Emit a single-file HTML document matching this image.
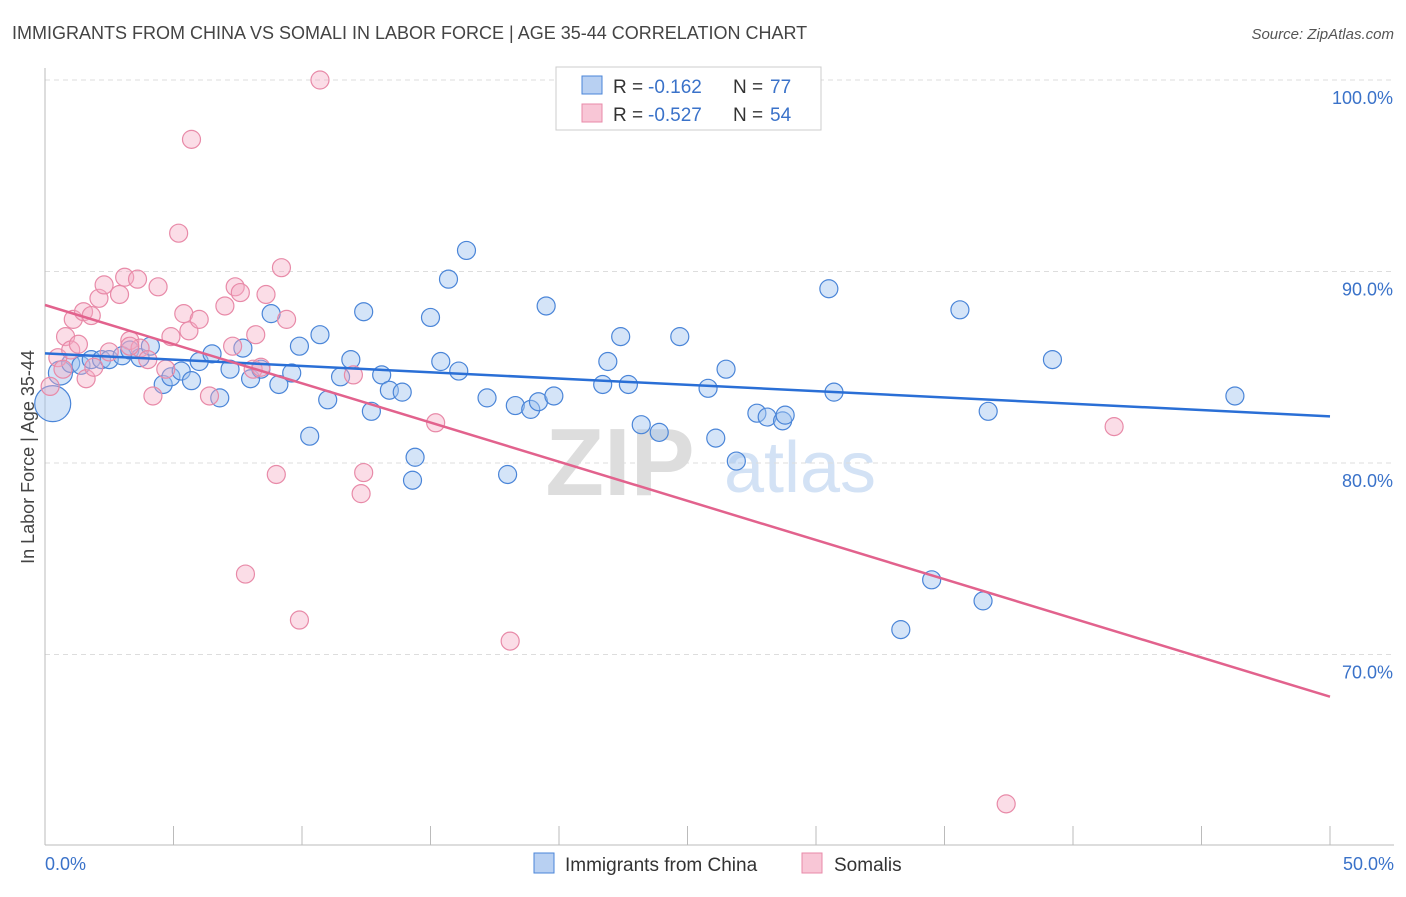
<!DOCTYPE html>
<html><head><meta charset="utf-8"><style>
body{margin:0;background:#fff;font-family:"Liberation Sans",sans-serif}
svg text{font-family:"Liberation Sans",sans-serif}
</style></head><body>
<svg id="c" width="1406" height="892"></svg>
<script>
const blueX=[0.3,0.6,1,1.4,1.8,2.2,2.5,3,3.3,3.7,4.1,4.6,4.9,5.3,5.7,6.0,6.5,6.8,7.2,7.7,8.0,8.4,8.8,9.1,9.6,9.9,10.3,10.7,11.0,11.5,11.9,12.4,12.7,13.1,13.4,13.9,14.4,14.3,15.0,15.4,15.7,16.1,16.4,17.2,18.0,18.3,18.9,19.2,19.8,19.5,20.4,21.0,21.7,21.9,22.4,22.7,23.2,23.9,24.7,25.8,26.1,26.5,26.9,27.7,28.1,28.7,28.8,29.7,30.5,30.7,33.3,34.5,35.6,36.5,36.7,39.2,46.3];
const blueY=[83.1,84.7,85.2,85.1,85.4,85.4,85.4,85.6,85.9,85.5,86.1,84.1,84.5,84.8,84.3,85.3,85.7,83.4,84.9,86.0,84.4,84.9,87.8,84.1,84.7,86.1,81.4,86.7,83.3,84.5,85.4,87.9,82.7,84.6,83.8,83.7,80.3,79.1,87.6,85.3,89.6,84.8,91.1,83.4,79.4,83.0,82.8,83.2,83.5,88.2,100,99.3,84.1,85.3,86.6,84.1,82.0,81.6,86.6,83.9,81.3,84.9,80.1,82.6,82.4,82.2,82.5,100,89.1,83.7,71.3,73.9,88.0,72.8,82.7,85.4,83.5];
const pinkX=[0.2,0.5,0.8,1.0,1.1,1.3,1.5,1.6,1.9,1.8,2.1,2.3,2.5,2.9,3.1,3.3,3.6,3.7,4.0,4.2,4.4,4.7,4.9,5.2,5.4,5.6,5.7,6.0,6.4,7.0,7.3,7.4,7.6,7.8,8.1,8.2,8.4,8.6,9.0,9.2,9.4,9.9,10.7,12.0,12.3,12.4,15.2,18.1,37.4,41.6,3.3,0.7];
const pinkY=[84.0,85.5,86.6,85.9,87.5,86.2,87.9,84.4,85.0,87.7,88.6,89.3,85.8,88.8,89.7,86.4,89.6,86.0,85.4,83.5,89.2,84.9,86.6,92.0,87.8,86.9,96.9,87.5,83.5,88.2,86.1,89.2,88.9,74.2,84.9,86.7,85.0,88.8,79.4,90.2,87.5,71.8,100,84.6,78.4,79.5,82.1,70.7,62.2,81.9,86.1,84.9];
const xTicks=[0,50];
const yTicks=[70,80,90,100];
const S='http://www.w3.org/2000/svg';
const svg=document.getElementById('c');
const X=v=>45+v/50*1285, Y=v=>80+(100-v)*19.15;
function el(t,a,p){const e=document.createElementNS(S,t);for(const k in a)e.setAttribute(k,a[k]);(p||svg).appendChild(e);return e;}
function tx(x,y,s,a){const e=el('text',Object.assign({x:x,y:y},a));e.textContent=s;return e;}
let t=tx(12,39,'IMMIGRANTS FROM CHINA VS SOMALI IN LABOR FORCE | AGE 35-44 CORRELATION CHART',{'font-size':18,fill:'#444'});

t=tx(1394,39,'Source: ZipAtlas.com',{'font-size':15,fill:'#555','text-anchor':'end','font-style':'italic'});

t=tx(620,495,'ZIP',{'font-size':96,fill:'#ddd','font-family':'Liberation Serif','text-anchor':'middle','font-weight':'bold'});

t=tx(800,492,'atlas',{'font-size':72,fill:'#d3e2f5','text-anchor':'middle'});

yTicks.forEach(v=>{
 const g=el('line',{x1:45,x2:1394,y1:Y(v),y2:Y(v),stroke:'#ddd','stroke-dasharray':'5,4'});
 
 const l=tx(1393,Y(v)+24,v.toFixed(1)+'%',{'font-size':18,fill:'#3a72c9','text-anchor':'end'});
 
});
let a=el('line',{x1:45,x2:45,y1:68,y2:845,stroke:'#bbb'});
a=el('line',{x1:45,x2:1394,y1:845,y2:845,stroke:'#bbb'});
for(let i=0;i<=10;i++){const k=el('line',{x1:X(i*5),x2:X(i*5),y1:826,y2:845,stroke:'#bbb'});}
xTicks.forEach((v,i)=>{const l=tx(i?1394:45,870,v.toFixed(1)+'%',{'font-size':18,fill:'#3a72c9','text-anchor':i?'end':'start'});});
t=tx(34,457,'In Labor Force | Age 35-44',{'font-size':18,fill:'#444','text-anchor':'middle',transform:'rotate(-90 34 457)'});

function fit(xs,ys){const n=xs.length;let mx=0,my=0;xs.forEach((x,i)=>{mx+=x;my+=ys[i]});mx/=n;my/=n;let sxy=0,sxx=0;xs.forEach((x,i)=>{sxy+=(x-mx)*(ys[i]-my);sxx+=(x-mx)**2});const b=sxy/sxx;return [my-b*mx,b];}
blueX.forEach((v,i)=>{const c=el('circle',{cx:X(v),cy:Y(blueY[i]),r:i==0?18:(i==1?12:9),fill:'rgba(160,195,240,0.45)',stroke:'#4a85d8','stroke-width':1.2});});
pinkX.forEach((v,i)=>{const c=el('circle',{cx:X(v),cy:Y(pinkY[i]),r:9,fill:'rgba(245,170,195,0.4)',stroke:'#e88aa8','stroke-width':1.2});});
let f=fit(blueX,blueY);
let ln=el('line',{x1:X(0),y1:Y(f[0]),x2:X(50),y2:Y(f[0]+50*f[1]),stroke:'#2a6fd6','stroke-width':2.5});
f=fit(pinkX,pinkY);
ln=el('line',{x1:X(0),y1:Y(f[0]),x2:X(50),y2:Y(f[0]+50*f[1]),stroke:'#e2628d','stroke-width':2.5});
const lg=el('g',{});
el('rect',{x:556,y:67,width:265,height:63,fill:'#fff',stroke:'#ccc'},lg);
el('rect',{x:582,y:76,width:20,height:18,fill:'#b8d0f2',stroke:'#4a85d8'},lg);
el('rect',{x:582,y:104,width:20,height:18,fill:'#f8c6d6',stroke:'#e88aa8'},lg);
[['-0.162','77',93],['-0.527','54',121]].forEach(r=>{
 tx(613,r[2],'R = ',{'font-size':19,fill:'#333'},lg);tx(648,r[2],r[0],{'font-size':19,fill:'#3a72c9'},lg);
 tx(733,r[2],'N = ',{'font-size':19,fill:'#333'},lg);tx(770,r[2],r[1],{'font-size':19,fill:'#3a72c9'},lg);
});
const bl=el('g',{});
el('rect',{x:534,y:853,width:20,height:20,fill:'#b8d0f2',stroke:'#4a85d8'},bl);
tx(565,871,'Immigrants from China',{'font-size':19,fill:'#333'},bl);
el('rect',{x:802,y:853,width:20,height:20,fill:'#f8c6d6',stroke:'#e88aa8'},bl);
tx(834,871,'Somalis',{'font-size':19,fill:'#333'},bl);
</script>
</body></html>
